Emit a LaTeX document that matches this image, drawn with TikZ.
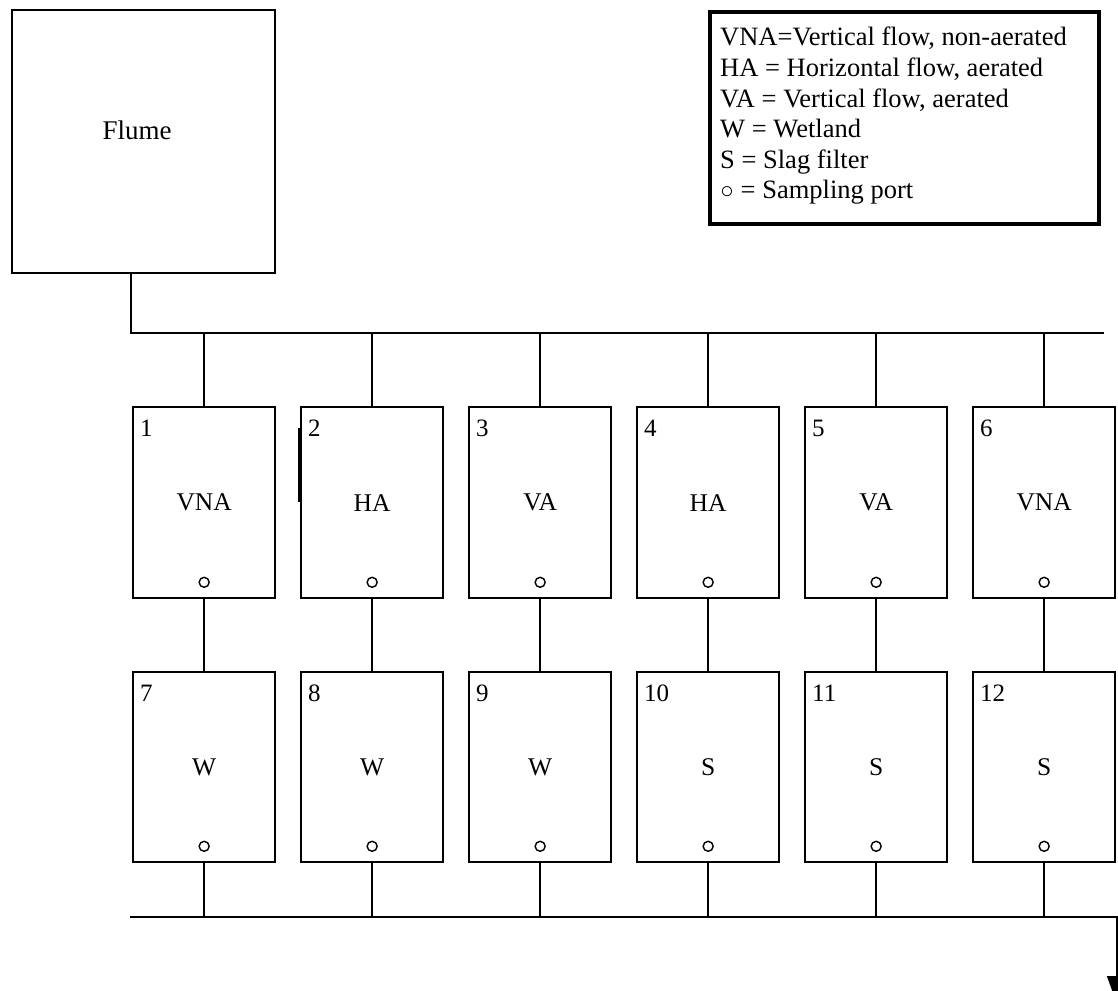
\documentclass[tikz,border=0pt]{standalone}
\usepackage{fontspec}
\setmainfont{Liberation Serif}
\usetikzlibrary{arrows.meta}
\begin{document}
\begin{tikzpicture}[x=1pt,y=-1pt,
  conn/.style={line width=1.7pt, black},
  unitbox/.style={draw, line width=2.3pt, minimum width=142pt, minimum height=191pt, inner sep=0pt, anchor=north west, font=\fontsize{25.5}{30}\selectfont},
  lowbox/.style={unitbox, minimum height=190pt},
  numlabel/.style={anchor=north west, inner sep=0pt, font=\fontsize{25}{30}\selectfont},
  port/.style={draw, circle, line width=1.4pt, minimum size=10pt, inner sep=0pt},
  flumebox/.style={draw, line width=2.3pt, minimum width=263pt, minimum height=263pt, anchor=north west, inner sep=0pt},
  legendbox/.style={draw, line width=4pt, minimum width=389pt, minimum height=212pt, anchor=north west, inner sep=0pt}
]
\useasboundingbox (0,0) rectangle (1118,990);
\clip (0,0) rectangle (1118,990);

% Flume
\node[flumebox] (flume) at (11,9) {};
\node[font=\fontsize{27}{30}\selectfont, inner sep=0pt] (flumetext) at (137,130) {Flume};

% Legend
\node[legendbox] (legend) at (708,10) {};
\node[anchor=north west, align=left, inner sep=0pt, font=\fontsize{26.5}{30.6}\selectfont] (legendtext) at ([shift={(12,17)}]legend.north west)
 {VNA=Vertical flow, non-aerated\\
  HA = Horizontal flow, aerated\\
  VA = Vertical flow, aerated\\
  W = Wetland\\
  S = Slag filter\\
  {\fontsize{23}{23}\selectfont ○} = Sampling port};

% bus coordinates
\coordinate (tbL) at (131,333);
\coordinate (tbR) at (1104,333);
\coordinate (bbL) at (130,917);
\coordinate (bbR) at (1117,917);
\coordinate (outlet) at (1117,1004);

% Units
\foreach \i/\x/\t/\b/\u/\v in {1/132/VNA/W/1/7, 2/300/HA/W/2/8, 3/468/VA/W/3/9, 4/636/HA/S/4/10, 5/804/VA/S/5/11, 6/972/VNA/S/6/12}{
  \node[unitbox] (t\i) at (\x,406) {\t};
  \node[numlabel] (tn\i) at ([shift={(8,14)}]t\i.north west) {\u};
  \node[port] (tp\i) at ([shift={(0,-17)}]t\i.south) {};
  \node[lowbox] (b\i) at (\x,671) {\b};
  \node[numlabel] (bn\i) at ([shift={(8,14)}]b\i.north west) {\v};
  \node[port] (bp\i) at ([shift={(0,-17)}]b\i.south) {};
  \draw[conn] (t\i.north) -- (t\i.north |- tbL);
  \draw[conn] (t\i.south) -- (b\i.north);
  \draw[conn] (b\i.south) -- (b\i.south |- bbL);
}

% stray mark beside unit 2
\draw[line width=2.6pt] (299,428) -- (299,502);

% buses
\draw[conn] (flume.south -| tbL) -- (tbL) -- (tbR);
\draw[conn, -{Triangle[length=28pt, width=20pt]}] (bbL) -- (bbR) -- (outlet);
\end{tikzpicture}
\end{document}
